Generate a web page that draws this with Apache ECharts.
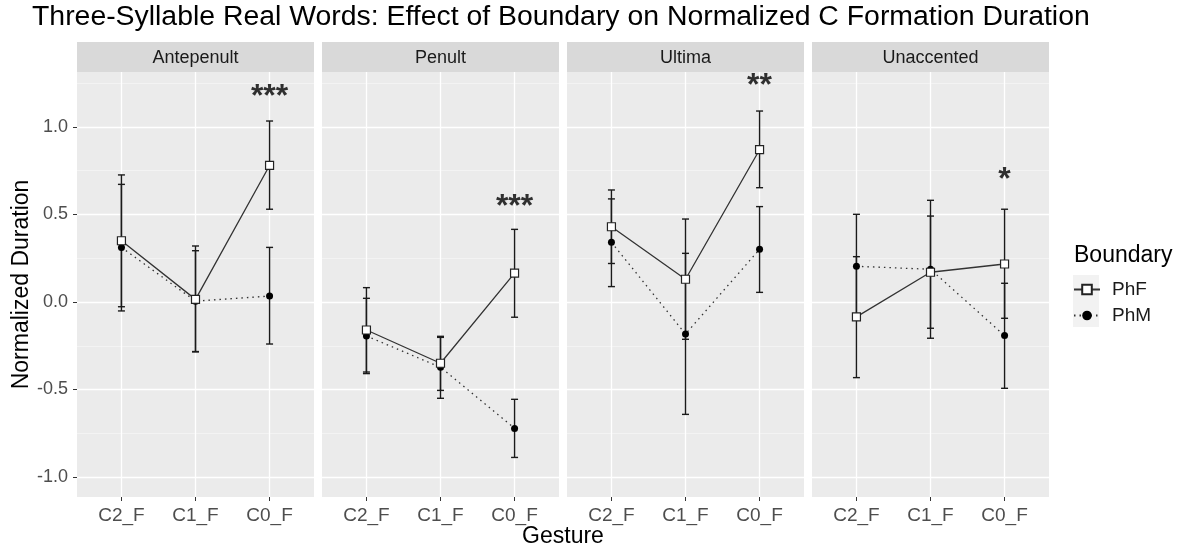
<!DOCTYPE html>
<html>
<head>
<meta charset="utf-8">
<script src="https://cdn.jsdelivr.net/npm/echarts@6/dist/echarts.min.js"></script>
<style>
  html, body { margin: 0; padding: 0; background: #fff; }
  #main { width: 1186px; height: 550px; }
</style>
</head>
<body>
<div id="main"></div>
<script>
var gestures = ['C2_F', 'C1_F', 'C0_F'];
var panels = ['Antepenult', 'Penult', 'Ultima', 'Unaccented'];
var yTicks = [-1, -0.5, 0, 0.5, 1];
var yMinor = [-0.75, -0.25, 0.25, 0.75, 1.25];

// PhF (solid, open squares)
var phfMean = [[0.35, 0.015, 0.78], [-0.16, -0.35, 0.165], [0.43, 0.13, 0.87], [-0.085, 0.17, 0.217]];
var phfLow  = [[-0.027, -0.285, 0.53], [-0.40, -0.505, -0.087], [0.22, -0.213, 0.653], [-0.432, -0.15, -0.093]];
var phfHigh = [[0.726, 0.32, 1.034], [0.082, -0.202, 0.415], [0.64, 0.474, 1.091], [0.259, 0.491, 0.53]];
// PhM (dotted, filled circles)
var phmMean = [[0.312, 0.005, 0.034], [-0.194, -0.373, -0.722], [0.341, -0.183, 0.301], [0.204, 0.187, -0.192]];
var phmLow  = [[-0.051, -0.283, -0.24], [-0.409, -0.55, -0.888], [0.088, -0.642, 0.055], [-0.093, -0.207, -0.493]];
var phmHigh = [[0.672, 0.293, 0.312], [0.021, -0.196, -0.556], [0.589, 0.278, 0.545], [0.501, 0.581, 0.107]];

// significance stars at C0_F
var stars = ['***', '***', '**', '*'];
var starY = [1.2, 0.573, 1.26, 0.726];

var chart = echarts.init(document.getElementById('main'));
var FONT = 'Liberation Sans, Arial, sans-serif';
var gridLeft = [77, 322, 567, 812];
var gridW = 237, gridTop = 72, gridH = 425;
var yMin = -1.114, yMax = 1.314;

function errBar(params, api) {
    var x = api.value(0);
    var p1 = api.coord([x, api.value(2)]);
    var p2 = api.coord([x, api.value(1)]);
    var w = 3.5;
    var st = { stroke: '#1a1a1a', lineWidth: 1.4 };
    return {
        type: 'group',
        children: [
            { type: 'line', shape: { x1: p1[0], y1: p1[1], x2: p2[0], y2: p2[1] }, style: st },
            { type: 'line', shape: { x1: p1[0] - w, y1: p1[1], x2: p1[0] + w, y2: p1[1] }, style: st },
            { type: 'line', shape: { x1: p2[0] - w, y1: p2[1], x2: p2[0] + w, y2: p2[1] }, style: st }
        ]
    };
}

var grids = [], xAxes = [], yAxes = [], series = [], graphics = [];

for (var i = 0; i < panels.length; i++) {
    grids.push({ left: gridLeft[i], top: gridTop, width: gridW, height: gridH,
        show: true, backgroundColor: '#EBEBEB', borderWidth: 0 });

    xAxes.push({
        gridIndex: i, type: 'value', min: -0.6, max: 2.6, position: 'bottom',
        axisLine: { show: false, onZero: false },
        axisTick: { show: true, length: 4, customValues: [0, 1, 2], lineStyle: { color: '#333', width: 1 } },
        axisLabel: { customValues: [0, 1, 2], color: '#4D4D4D', fontSize: 19, fontFamily: FONT, margin: 9,
            formatter: function (v) { return gestures[Math.round(v)]; } },
        splitLine: { show: true, lineStyle: { color: '#fff', width: 1.3 } }
    });
    // major y axis
    yAxes.push({
        gridIndex: i, type: 'value', min: yMin, max: yMax, position: 'left',
        axisLine: { show: false, onZero: false },
        axisTick: { show: i === 0, length: 4, customValues: yTicks, lineStyle: { color: '#333', width: 1 } },
        axisLabel: { show: i === 0, customValues: yTicks, color: '#4D4D4D', fontSize: 18, fontFamily: FONT, margin: 9,
            formatter: function (v) { return v.toFixed(1); } },
        splitLine: { show: true, lineStyle: { color: '#fff', width: 1.3 } },
        name: i === 0 ? 'Normalized Duration' : '', nameLocation: 'middle', nameGap: 44,
        nameTextStyle: { fontSize: 23, color: '#000', fontFamily: FONT }
    });
    // minor grid lines
    yAxes.push({
        gridIndex: i, type: 'value', min: yMin, max: yMax, position: 'left',
        axisLine: { show: false, onZero: false },
        axisTick: { show: false, customValues: yMinor },
        axisLabel: { show: false, customValues: yMinor },
        splitLine: { show: true, lineStyle: { color: '#F5F5F5', width: 0.8 } }
    });

    var yi = i * 2;
    var errF = [], errM = [], lineF = [], lineM = [];
    for (var j = 0; j < gestures.length; j++) {
        errF.push([j, phfLow[i][j], phfHigh[i][j]]);
        errM.push([j, phmLow[i][j], phmHigh[i][j]]);
        lineF.push([j, phfMean[i][j]]);
        lineM.push([j, phmMean[i][j]]);
    }
    series.push({ type: 'custom', name: 'errF' + i, xAxisIndex: i, yAxisIndex: yi, renderItem: errBar,
        data: errF, encode: { x: 0, y: [1, 2] }, z: 3, silent: true });
    series.push({ type: 'custom', name: 'errM' + i, xAxisIndex: i, yAxisIndex: yi, renderItem: errBar,
        data: errM, encode: { x: 0, y: [1, 2] }, z: 3, silent: true });
    series.push({ type: 'line', name: 'PhM', xAxisIndex: i, yAxisIndex: yi, data: lineM,
        symbol: 'circle', symbolSize: 7, showAllSymbol: true,
        itemStyle: { color: '#000', borderColor: '#000', borderWidth: 0 },
        lineStyle: { color: '#333', width: 1.3, type: [1.5, 4] }, z: 4 });
    series.push({ type: 'line', name: 'PhF', xAxisIndex: i, yAxisIndex: yi, data: lineF,
        symbol: 'rect', symbolSize: 8, showAllSymbol: true,
        itemStyle: { color: '#fff', borderColor: '#222', borderWidth: 1.2 },
        lineStyle: { color: '#333', width: 1.3, type: 'solid' }, z: 5 });
    series.push({ type: 'scatter', name: 'stars' + i, xAxisIndex: i, yAxisIndex: yi,
        data: [[2, starY[i], stars[i]]], symbolSize: 0, silent: true,
        label: { show: true, position: 'inside', offset: [0, 5], formatter: function (p) { return p.data[2]; },
            fontSize: 32, fontWeight: 'bold', color: '#000', fontFamily: FONT } });

    // facet strip
    graphics.push({ type: 'rect', shape: { x: gridLeft[i], y: 42, width: gridW, height: 30 },
        style: { fill: '#D9D9D9' }, silent: true });
    graphics.push({ type: 'text', x: gridLeft[i] + gridW / 2, y: 58,
        style: { text: panels[i], font: '18px ' + FONT, fill: '#1A1A1A', align: 'center', verticalAlign: 'middle' } });
}

graphics.push({ type: 'text', x: 563, y: 537,
    style: { text: 'Gesture', font: '23px ' + FONT, fill: '#000', align: 'center', verticalAlign: 'middle' } });
graphics.push({ type: 'text', x: 1074, y: 256,
    style: { text: 'Boundary', font: '23px ' + FONT, fill: '#000', align: 'left', verticalAlign: 'middle' } });
graphics.push({ type: 'rect', shape: { x: 1073, y: 275, width: 26, height: 52 },
    style: { fill: '#F2F2F2' }, silent: true, z: -1 });

chart.setOption({
    animation: false,
    title: {
        text: 'Three-Syllable Real Words: Effect of Boundary on Normalized C Formation Duration',
        left: 32, top: 3, padding: 0,
        textStyle: { fontSize: 28.4, fontWeight: 'normal', color: '#000', fontFamily: FONT }
    },
    legend: {
        data: ['PhF', 'PhM'], orient: 'vertical', left: 1073, top: 280, padding: 0,
        itemWidth: 26, itemHeight: 12, itemGap: 7,
        textStyle: { fontSize: 19, color: '#1A1A1A', fontFamily: FONT, padding: [0, 0, 0, 7] },
        selectedMode: false
    },
    grid: grids,
    xAxis: xAxes,
    yAxis: yAxes,
    series: series,
    graphic: graphics
});
</script>
</body>
</html>
